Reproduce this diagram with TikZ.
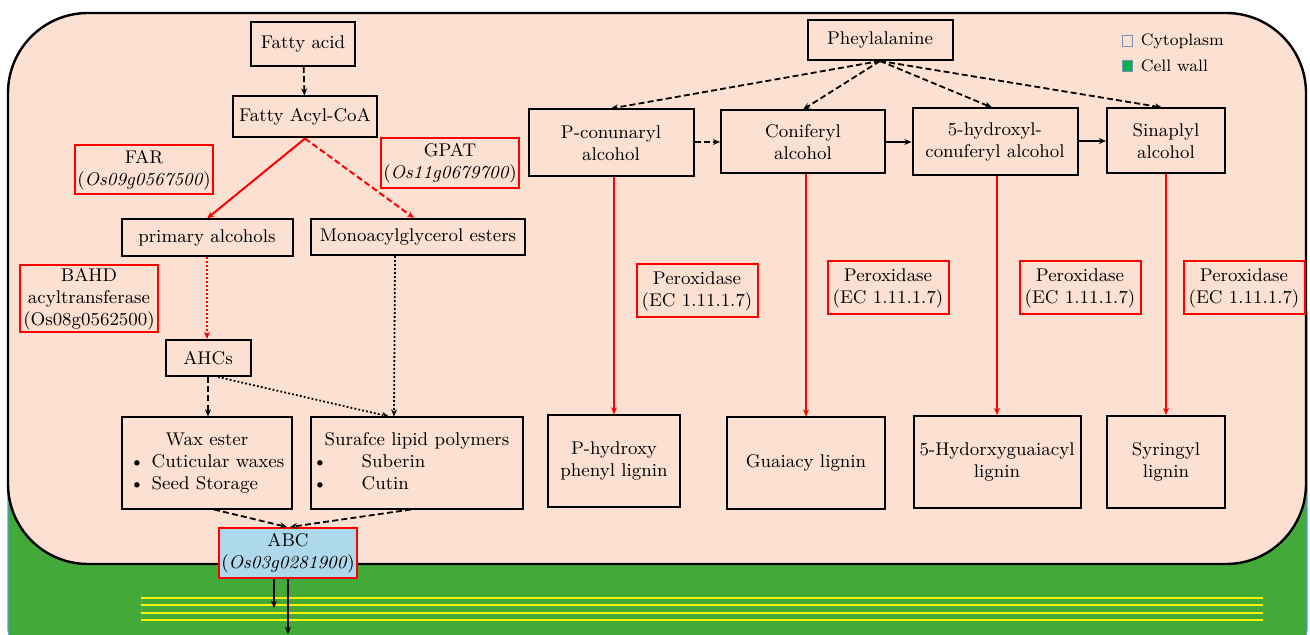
\documentclass[tikz,border=0pt]{standalone}
\usepackage{fontspec}
\usetikzlibrary{arrows.meta,positioning}
\definecolor{cyto}{RGB}{252,225,210}
\definecolor{wall}{RGB}{67,170,58}
\definecolor{walledge}{RGB}{91,155,213}
\definecolor{keygreen}{RGB}{0,176,80}
\definecolor{keyedge}{RGB}{120,145,175}
\definecolor{abcblue}{RGB}{174,216,235}
\newcommand\boxfont{\fontsize{9.2}{11}\selectfont}
\newcommand\keyfont{\fontsize{8.3}{10}\selectfont}
\tikzset{
  arr/.tip={Stealth[length=3.6pt,width=3pt]},
  box/.style={draw,line width=1pt,align=center,inner sep=1pt,font=\boxfont},
  enzyme/.style={box,draw=red},
  keybox/.style={draw=keyedge,line width=0.5pt,minimum width=5pt,minimum height=5.5pt,inner sep=0pt},
  dasharrow/.style={-arr,line width=0.9pt,dash pattern=on 3pt off 1.6pt},
  dotarrow/.style={-arr,line width=0.9pt,dash pattern=on 0.9pt off 1.1pt},
  redarrow/.style={-arr,red,line width=0.8pt}
}

\begin{document}
\begin{tikzpicture}[x=0.5pt,y=-0.5pt]
    \clip (0,0) rectangle (1310,635);
    % cell wall and cytoplasm
    \draw[fill=wall,draw=walledge,line width=0.6pt,rounded corners=6pt] (8,300) rectangle (1307,642);
    \foreach \y in {598,605,613,620}
      \draw[yellow,line width=1.3pt] (141,\y) -- (1263,\y);
    \draw[fill=cyto,line width=1.2pt,rounded corners=40pt] (8,13) rectangle (1306,564);
    % legend
    \node[keybox,fill=cyto] (cytokey) at (1127,41) {};
    \node[keybox,fill=keygreen] (wallkey) at (1127,66) {};
    \node[right=4pt of cytokey,inner sep=0pt,font=\keyfont] (cytolabel) {Cytoplasm};
    \node[right=4pt of wallkey,inner sep=0pt,font=\keyfont] (walllabel) {Cell wall};
    % lipid pathway
    \node[box,minimum width=52pt,minimum height=22pt] (fa) at (303,44) {Fatty acid};
    \node[box,minimum width=72pt,minimum height=20.5pt] (acyl) at (305,117) {Fatty Acyl-CoA};
    \node[enzyme,minimum width=69pt,minimum height=24.5pt] (far) at (144,170) {FAR\\(\textit{Os09g0567500})};
    \node[enzyme,minimum width=67.5pt,minimum height=25pt] (gpat) at (450,163) {GPAT\\(\textit{Os11g0679700})};
    \node[box,minimum width=85.5pt,minimum height=18.5pt] (prim) at (207,238) {primary alcohols};
    \node[box,minimum width=107pt,minimum height=18pt] (mono) at (418,237) {Monoacylglycerol esters};
    \node[enzyme,minimum width=69pt,minimum height=33.5pt] (bahd) at (89,299) {BAHD\\acyltransferase\\(Os08g0562500)};
    \node[box,minimum width=42.5pt,minimum height=18pt] (ahc) at (208,358) {AHCs};
    \node[box,minimum width=85pt,minimum height=45.5pt] (wax) at (207,463)
      {\begin{tabular}{@{}p{11pt}@{}l@{}}\multicolumn{2}{c}{Wax ester}\\ \textbullet & Cuticular waxes\\ \textbullet & Seed Storage\end{tabular}};
    \node[box,minimum width=104pt,minimum height=45.5pt] (surf) at (417,463)
      {\begin{tabular}{@{}p{24.5pt}@{}l@{}}\multicolumn{2}{c}{Surafce lipid polymers}\\ \textbullet & Suberin\\ \textbullet & Cutin\end{tabular}};
    \node[box,draw=red,fill=abcblue,minimum width=66pt,minimum height=25pt] (abc) at (288,553) {ABC\\(\textit{Os03g0281900})};
    \coordinate (out1) at (274,608);
    \coordinate (out2) at (288,634);
    % lignin pathway
    \node[box,minimum width=72.5pt,minimum height=20pt] (phe) at (880,40) {Pheylalanine};
    \node[box,minimum width=82.5pt,minimum height=33.5pt] (pcou) at (611,143) {P-conunaryl\\alcohol};
    \node[box,minimum width=82pt,minimum height=31.5pt] (coni) at (803,142) {Coniferyl\\alcohol};
    \node[box,minimum width=82.5pt,minimum height=33.5pt] (hydro) at (995,142) {5-hydroxyl-\\conuferyl alcohol};
    \node[box,minimum width=59pt,minimum height=32.5pt] (sina) at (1166,141) {Sinaplyl\\alcohol};
    \node[enzyme,minimum width=60.5pt,minimum height=26.5pt] (per1) at (697,291) {Peroxidase\\(EC 1.11.1.7)};
    \node[enzyme,minimum width=60.5pt,minimum height=26.5pt] (per2) at (888,288) {Peroxidase\\(EC 1.11.1.7)};
    \node[enzyme,minimum width=60.5pt,minimum height=26.5pt] (per3) at (1080,288) {Peroxidase\\(EC 1.11.1.7)};
    \node[enzyme,minimum width=60.5pt,minimum height=26.5pt] (per4) at (1244,288) {Peroxidase\\(EC 1.11.1.7)};
    \node[box,minimum width=66pt,minimum height=45.5pt] (lig1) at (614,461) {P-hydroxy\\phenyl lignin};
    \node[box,minimum width=79pt,minimum height=45.5pt] (lig2) at (806,463) {Guaiacy lignin};
    \node[box,minimum width=83.5pt,minimum height=46pt] (lig3) at (997,462) {5-Hydorxyguaiacyl\\lignin};
    \node[box,minimum width=59pt,minimum height=46pt] (lig4) at (1166,462) {Syringyl\\lignin};
    % lipid arrows
    \draw[dasharrow] (fa) -- (acyl);
    \draw[redarrow,line width=1pt] (acyl.south) -- (prim.north);
    \draw[redarrow,line width=1pt,dash pattern=on 3pt off 1.6pt] (acyl.south) -- ([xshift=-2pt]mono.north);
    \draw[redarrow,dash pattern=on 0.9pt off 1.1pt] (prim.south) -- (prim.south |- ahc.north);
    \draw[dotarrow] ([xshift=-11.5pt]mono.south) -- ([xshift=-11.5pt]surf.north);
    \draw[dasharrow] (ahc.south) -- (ahc.south |- wax.north);
    \draw[dotarrow] ([xshift=5pt]ahc.south) -- ([xshift=-14pt]surf.north);
    \draw[dasharrow] ([xshift=3.5pt]wax.south) -- ([xshift=-0.5pt]abc.north);
    \draw[dasharrow] ([xshift=-3pt]surf.south) -- ([xshift=1pt]abc.north);
    \draw[-arr,line width=0.8pt] (abc.south -| out1) -- (out1);
    \draw[-arr,line width=0.8pt] (abc.south -| out2) -- (out2);
    % lignin arrows
    \draw[dasharrow] (phe.south) -- (pcou.north);
    \draw[dasharrow] (phe.south) -- (coni.north);
    \draw[dasharrow] (phe.south) -- ([xshift=-1.5pt]hydro.north);
    \draw[dasharrow] (phe.south) -- ([xshift=-2pt]sina.north);
    \draw[dasharrow] (pcou.east |- coni.west) -- (coni.west);
    \draw[-arr,line width=1.2pt] (coni.east) -- (coni.east -| hydro.west);
    \draw[-arr,line width=1.2pt] (hydro.east |- sina.west) -- (sina.west);
    \draw[redarrow] (pcou.south -| lig1.north) -- (lig1.north);
    \draw[redarrow] (coni.south -| lig2.north) -- (lig2.north);
    \draw[redarrow] (hydro.south -| lig3.north) -- (lig3.north);
    \draw[redarrow] (sina.south -| lig4.north) -- (lig4.north);
\end{tikzpicture}
\end{document}
